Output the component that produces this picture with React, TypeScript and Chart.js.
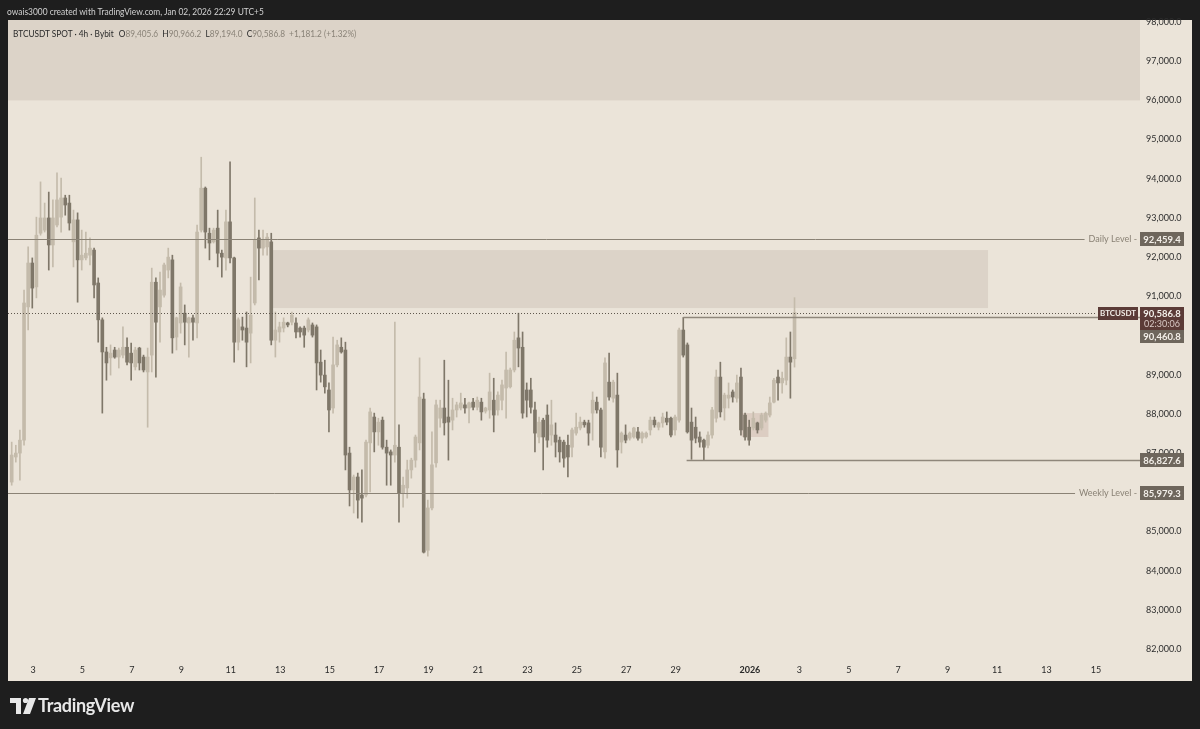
import React, { useEffect, useRef } from 'react';
import { Chart, registerables } from 'chart.js';
Chart.register(...registerables);

// ---- DATA (BTCUSDT 4h candles, Bybit) ----
const opens = [
  86260, 86900, 87000, 87330, 90730, 91850, 91240, 92610, 92690, 93000,
  92310, 92820, 93020, 93510, 93380, 92390, 92950, 91930, 91980, 92050,
  92180, 91340, 90400, 89580, 89430, 89630, 89450, 89500, 89700, 89550,
  89200, 89680, 89450, 89070, 89500, 91360, 90730, 91030, 91670, 91930,
  89960, 90320, 90570, 90320, 90450, 90320, 92690, 93760, 92610, 92390,
  92740, 92100, 91980, 92900, 91980, 89830, 90220, 90190, 90060, 90830,
  92490, 92230, 92260, 92390, 89880, 90090, 90190, 90320, 90340, 90320,
  90190, 90190, 90140, 90270, 90220, 89320, 88990, 88610, 88150, 89250,
  89700, 89630, 87000, 86060, 86390, 85930, 85930, 87260, 87920, 87540,
  87840, 87150, 87030, 86950, 87150, 85980, 86110, 86570, 86820, 87260,
  88380, 84520, 85600, 86750, 87890, 88150, 87920, 87840, 88100, 88150,
  88230, 88150, 88300, 88170, 88300, 88070, 88100, 88350, 88100, 88350,
  88660, 88690, 89120, 89940, 89700, 88610, 88610, 88100, 87410, 87840,
  87970, 87460, 87460, 87330, 87280, 87200, 87150, 87510, 87640, 87790,
  87770, 88020, 88300, 88100, 87030, 88810, 88400, 88480, 87280, 87460,
  87380, 87410, 87540, 87380, 87410, 87590, 87840, 87660, 87770, 87890,
  87890, 87590, 87840, 90140, 89760, 87790, 87660, 87410, 87330, 87200,
  87460, 87890, 88940, 88150, 88400, 88560, 88400, 88940, 87970, 87660,
  87640, 87770, 87640, 87840, 87970, 88300, 88940, 88790, 88860, 89450,
  89405.6,
];
const highs = [
  87280, 87200, 87590, 91160, 92260, 91980, 93020, 93920, 93380, 93660,
  93460, 94150, 94020, 93580, 93580, 93200, 93130, 92690, 92640, 92490,
  92230, 91470, 90450, 89700, 89760, 89700, 89680, 90220, 89940, 89810,
  89700, 89700, 89500, 89680, 91720, 91470, 91620, 91850, 92230, 92050,
  90470, 91340, 90780, 90470, 90520, 92820, 94550, 93790, 92740, 92740,
  93200, 92180, 93200, 94430, 92000, 90450, 90470, 90600, 91490, 93510,
  92690, 92690, 92610, 92610, 90600, 90340, 90450, 90340, 90600, 90450,
  90220, 90240, 90450, 90320, 90270, 89630, 89370, 88790, 89960, 89880,
  89940, 89830, 87150, 86440, 86490, 86570, 87330, 88150, 88020, 87890,
  87920, 87330, 87080, 90340, 87720, 86390, 86820, 86870, 87460, 89430,
  88530, 85800, 87540, 88350, 88350, 89370, 88860, 88400, 88300, 88530,
  88400, 88300, 88400, 88430, 88400, 88170, 89040, 88910, 88560, 88860,
  89580, 89170, 90090, 90570, 90090, 88790, 88910, 88300, 87920, 87890,
  88230, 88350, 87770, 87410, 87330, 87460, 87640, 88020, 87920, 87840,
  87840, 88560, 88430, 88150, 89430, 89550, 88860, 89040, 87540, 87720,
  87540, 87660, 87660, 87540, 87540, 87920, 87920, 87790, 88020, 88050,
  87920, 87970, 90190, 90460.8, 89810, 88150, 87920, 87540, 87360, 87540,
  88170, 89120, 89320, 88530, 88790, 88610, 88990, 89170, 88020, 87840,
  88050, 87790, 88020, 88050, 88430, 88910, 89120, 89070, 89940, 90090,
  90966.2,
];
const lows = [
  86180, 86770, 86310, 87200, 90140, 90700, 90960, 92560, 92640, 91670,
  91750, 92770, 92640, 93070, 92690, 91750, 90850, 91670, 91930, 91800,
  90960, 89830, 88020, 88860, 88990, 89420, 89170, 89430, 89250, 88860,
  89120, 89120, 89070, 87660, 89070, 88940, 89830, 90980, 91470, 89550,
  89630, 90060, 89760, 89450, 89880, 89940, 92640, 92230, 91930, 92360,
  91750, 91490, 91670, 91850, 89320, 89630, 89880, 89200, 89300, 90780,
  91420, 92050, 92050, 89760, 89450, 89830, 90090, 90220, 90270, 89940,
  89960, 89700, 90090, 89960, 88610, 88810, 88530, 87540, 88020, 89200,
  89550, 86570, 85650, 85470, 85340, 85240, 85880, 86010, 87030, 87200,
  87100, 86180, 86180, 86770, 85240, 85620, 85850, 86360, 86640, 87080,
  84450, 84370, 85550, 86640, 87660, 87460, 86820, 87590, 87920, 88100,
  88020, 87770, 88100, 88100, 87840, 88020, 87890, 87540, 87970, 88100,
  87890, 88660, 89070, 89200, 87890, 87920, 88020, 87030, 87260, 86570,
  87150, 87200, 86900, 86770, 86640, 86390, 86900, 87460, 87590, 87660,
  87200, 87330, 88020, 86900, 86870, 88350, 88300, 86640, 87000, 87260,
  87330, 87380, 87330, 87260, 87380, 87460, 87660, 87590, 87660, 87720,
  87410, 87460, 87790, 89450, 87510, 86840, 87260, 87150, 86827.6, 87130,
  87380, 87790, 87920, 87840, 88150, 88300, 88300, 87460, 87330, 87200,
  87590, 87510, 87590, 87790, 87920, 88280, 88350, 88530, 88740, 88400,
  89194.0,
];
const closes = [
  86950, 87000, 87330, 90830, 91850, 91210, 92560, 93000, 93000, 92310,
  93000, 93460, 93510, 93330, 92870, 92950, 91930, 92050, 92100, 92230,
  91290, 90400, 89580, 89300, 89550, 89450, 89630, 89700, 89320, 89300,
  89630, 89300, 89120, 89450, 91360, 90340, 91160, 91800, 92000, 89940,
  90450, 91240, 90340, 90450, 90340, 92640, 93760, 92640, 92360, 92690,
  92100, 92000, 92900, 91980, 89830, 90400, 90140, 89830, 90520, 92440,
  92230, 92440, 92510, 89880, 90140, 90220, 90340, 90270, 90520, 90090,
  90090, 90010, 90400, 90010, 89300, 88990, 88690, 88100, 89250, 89760,
  89580, 86950, 86060, 86390, 85800, 85850, 87280, 88050, 87540, 87790,
  87150, 87000, 86950, 87200, 85980, 86180, 86570, 86820, 87410, 88430,
  84470, 85600, 86700, 88230, 88150, 87770, 87790, 88100, 88230, 88280,
  88150, 88280, 88170, 88350, 88050, 88150, 88560, 87970, 88480, 88740,
  89120, 89120, 89880, 89680, 88020, 88350, 88170, 87510, 87790, 87410,
  87330, 87720, 87280, 87030, 86870, 86900, 87590, 87660, 87790, 87720,
  87510, 88350, 88100, 87150, 89300, 88430, 88810, 87080, 87510, 87330,
  87510, 87640, 87380, 87510, 87510, 87840, 87720, 87770, 87920, 87790,
  87460, 87920, 90140, 89500, 87540, 87330, 87380, 87280, 87150, 87460,
  88100, 88940, 88050, 88480, 88480, 88430, 88790, 87590, 87410, 87330,
  87890, 87590, 87970, 88020, 88280, 88860, 88790, 88910, 89450, 89320,
  90586.8,
];

// time axis: days since Dec 1, 2025 00:00 (UTC+5)
const firstCandleDay = 1.138;
const candleStepDays = 1 / 6; // 4h
const dayAxisMin = 0.989;
const dayAxisMax = 46.78;
const dayTicks = [2, 4, 6, 8, 10, 12, 14, 16, 18, 20, 22, 24, 26, 28, 31, 33, 35, 37, 39, 41, 43, 45];
const dayTickLabels = ['3', '5', '7', '9', '11', '13', '15', '17', '19', '21', '23', '25', '27', '29', '2026', '3', '5', '7', '9', '11', '13', '15'];

// price axis
const priceMin = 81720;
const priceMax = 98051;
const priceTicks = [82000, 83000, 84000, 85000, 86000, 87000, 88000, 89000, 90000, 91000, 92000, 93000, 94000, 95000, 96000, 97000, 98000];

// zones (rectangles drawn on chart)
const zoneStartDays = [0.5, 11.668, 30.67];
const zoneEndDays = [46.78, 40.633, 31.75];
const zoneLowPrices = [96000, 90700, 87410];
const zoneHighPrices = [98300, 92180, 88020];

// horizontal levels
const dailyLevel = 92459.4;
const weeklyLevel = 85979.3;
const rangeHigh = 90460.8;
const rangeHighStartDay = 28.305;
const rangeLow = 86827.6;
const rangeLowStartDay = 28.44;
const lastPrice = 90586.8;

const BULL = '#c4bbab';
const BEAR = '#7f7769';
const FONT = 'Lato, "Liberation Sans", Arial, sans-serif';

const fmt = (v: number) => v.toLocaleString('en-US', { minimumFractionDigits: 1, maximumFractionDigits: 1 });

const overlayPlugin = {
  id: 'overlay',
  beforeDraw(chart: any) {
    const ctx = chart.ctx;
    const xs = chart.scales.x;
    const ys = chart.scales.y;
    const ca = chart.chartArea;
    ctx.save();
    ctx.fillStyle = '#1e1e1e';
    ctx.fillRect(0, 0, chart.width, chart.height);
    ctx.fillStyle = '#ebe4d9';
    ctx.fillRect(8, 20, 1184, 661);
    ctx.beginPath();
    ctx.rect(ca.left, ca.top, ca.right - ca.left, ca.bottom - ca.top);
    ctx.clip();
    const zoneColors = ['#dcd3c8', '#dcd3c8', '#dccdc2'];
    for (let i = 0; i < zoneStartDays.length; i++) {
      const x0 = xs.getPixelForValue(zoneStartDays[i]);
      const x1 = xs.getPixelForValue(zoneEndDays[i]);
      const y0 = ys.getPixelForValue(zoneHighPrices[i]);
      const y1 = ys.getPixelForValue(zoneLowPrices[i]);
      ctx.fillStyle = zoneColors[i];
      ctx.fillRect(x0, y0, x1 - x0, y1 - y0);
    }
    ctx.restore();
  },
  afterDatasetsDraw(chart: any) {
    const ctx = chart.ctx;
    const xs = chart.scales.x;
    const ys = chart.scales.y;
    const ca = chart.chartArea;
    const py = (v: number) => Math.round(ys.getPixelForValue(v)) + 0.5;
    ctx.save();
    ctx.font = `9px ${FONT}`;
    ctx.textBaseline = 'middle';
    ctx.textAlign = 'right';

    // Daily / Weekly levels with text
    const levels: [number, string][] = [[dailyLevel, 'Daily Level -'], [weeklyLevel, 'Weekly Level -']];
    for (const [v, label] of levels) {
      const y = py(v);
      const tx = ca.right - 3;
      const w = ctx.measureText(label).width;
      ctx.strokeStyle = '#8a8275';
      ctx.lineWidth = 1;
      ctx.beginPath();
      ctx.moveTo(ca.left, y);
      ctx.lineTo(tx - w - 4, y);
      ctx.stroke();
      ctx.fillStyle = '#8a8275';
      ctx.fillText(label, tx, y);
    }

    // range lines
    ctx.strokeStyle = '#8f877b';
    ctx.lineWidth = 1.5;
    ctx.beginPath();
    ctx.moveTo(xs.getPixelForValue(rangeHighStartDay), py(rangeHigh));
    ctx.lineTo(ca.right, py(rangeHigh));
    ctx.moveTo(xs.getPixelForValue(rangeLowStartDay), py(rangeLow));
    ctx.lineTo(ca.right, py(rangeLow));
    ctx.stroke();

    // last price dotted line
    ctx.strokeStyle = '#5f574d';
    ctx.lineWidth = 1;
    ctx.setLineDash([1, 2]);
    ctx.beginPath();
    ctx.moveTo(ca.left, py(lastPrice));
    ctx.lineTo(ca.right - 43, py(lastPrice));
    ctx.stroke();
    ctx.setLineDash([]);
    ctx.restore();
  },
  afterDraw(chart: any) {
    const ctx = chart.ctx;
    const ys = chart.scales.y;
    const ca = chart.chartArea;
    const bx = ca.right;
    const bw = 44;
    ctx.save();
    ctx.textBaseline = 'middle';
    ctx.textAlign = 'center';
    ctx.font = `bold 9.5px ${FONT}`;
    const GRAY = '#6e665c';
    const MAROON = '#5b3b37';
    for (const v of [dailyLevel, weeklyLevel, rangeLow]) {
      const y = Math.round(ys.getPixelForValue(v));
      ctx.fillStyle = GRAY;
      ctx.fillRect(bx, y - 7, bw, 14);
      ctx.fillStyle = '#f3efe9';
      ctx.fillText(fmt(v), bx + bw / 2, y + 0.5);
    }
    // last price
    const ly = Math.round(ys.getPixelForValue(lastPrice));
    ctx.fillStyle = MAROON;
    ctx.fillRect(bx, ly - 6, bw, 23);
    ctx.fillRect(bx - 42, ly - 6, 40, 13);
    ctx.fillStyle = '#f3efe9';
    ctx.fillText(fmt(lastPrice), bx + bw / 2, ly + 0.5);
    ctx.font = `bold 8px ${FONT}`;
    ctx.fillText('BTCUSDT', bx - 22, ly + 0.5);
    ctx.font = `9px ${FONT}`;
    ctx.fillStyle = '#d8c8c4';
    ctx.fillText('02:30:06', bx + bw / 2, ly + 11);
    // range high label pushed below
    ctx.fillStyle = GRAY;
    ctx.fillRect(bx, ly + 17, bw, 13);
    ctx.font = `bold 9.5px ${FONT}`;
    ctx.fillStyle = '#f3efe9';
    ctx.fillText(fmt(rangeHigh), bx + bw / 2, ly + 24);

    // TradingView logo mark
    ctx.fillStyle = '#e8e8e8';
    ctx.fillRect(10, 698, 11, 5);
    ctx.fillRect(16, 698, 5, 16);
    ctx.beginPath();
    ctx.arc(25.5, 700.5, 2.6, 0, Math.PI * 2);
    ctx.fill();
    ctx.beginPath();
    ctx.moveTo(29, 698);
    ctx.lineTo(36, 698);
    ctx.lineTo(30, 714);
    ctx.lineTo(23, 714);
    ctx.closePath();
    ctx.fill();
    ctx.restore();
  },
};

export default function App() {
  const ref = useRef<HTMLCanvasElement>(null);
  useEffect(() => {
    const canvas = ref.current;
    if (!canvas) return;
    const xsVals = opens.map((_, i) => firstCandleDay + i * candleStepDays);
    const colors = opens.map((o, i) => (closes[i] >= o ? BULL : BEAR));
    const chart = new Chart(canvas, {
      type: 'bar',
      data: {
        datasets: [
          {
            label: 'wick',
            data: xsVals.map((x, i) => ({ x, y: [lows[i], highs[i]] })) as any,
            backgroundColor: colors,
            barThickness: 1,
            grouped: false,
            borderWidth: 0,
          } as any,
          {
            label: 'body',
            data: xsVals.map((x, i) => ({ x, y: [opens[i], closes[i]] })) as any,
            backgroundColor: colors,
            barThickness: 3,
            minBarLength: 1,
            grouped: false,
            borderWidth: 0,
          } as any,
        ],
      },
      options: {
        animation: false,
        responsive: false,
        maintainAspectRatio: false,
        devicePixelRatio: 1,
        layout: { padding: { left: 8, top: 20, right: 8, bottom: 48 } },
        plugins: { legend: { display: false }, tooltip: { enabled: false } },
        scales: {
          x: {
            type: 'linear',
            min: dayAxisMin,
            max: dayAxisMax,
            offset: false,
            grid: { display: false, drawTicks: false },
            border: { display: false },
            afterBuildTicks: (s: any) => {
              s.ticks = dayTicks.map((v) => ({ value: v }));
            },
            afterFit: (s: any) => {
              s.height = 21;
            },
            ticks: {
              autoSkip: false,
              maxRotation: 0,
              minRotation: 0,
              padding: 5,
              color: '#2a2a2a',
              font: (c: any) => ({ family: FONT, size: 9, weight: c.tick && c.tick.value === 31 ? 'bold' : 'normal' }),
              callback: (_v: any, i: number) => dayTickLabels[i],
            },
          },
          y: {
            type: 'linear',
            position: 'right',
            min: priceMin,
            max: priceMax,
            grid: { display: false, drawTicks: false },
            border: { display: false },
            afterBuildTicks: (s: any) => {
              s.ticks = priceTicks.map((v) => ({ value: v }));
            },
            afterFit: (s: any) => {
              s.width = 52;
            },
            ticks: {
              crossAlign: 'near',
              padding: 6,
              color: '#2e2e2e',
              font: { family: FONT, size: 9 },
              callback: (v: any) => fmt(Number(v)),
            },
          },
        },
      } as any,
      plugins: [overlayPlugin],
    });
    return () => chart.destroy();
  }, []);

  const gray = { color: '#8a8378' };
  return (
    <div style={{ position: 'absolute', left: 0, top: 0, width: 1200, height: 729, background: '#1e1e1e', overflow: 'hidden' }}>
      <canvas ref={ref} width={1200} height={729} style={{ position: 'absolute', left: 0, top: 0, width: 1200, height: 729 }} />
      <div style={{ position: 'absolute', left: 7, top: 4, fontFamily: FONT, fontSize: 10, color: '#d2d2d2', whiteSpace: 'nowrap', lineHeight: '14px', transform: 'scaleX(0.84)', transformOrigin: 'left center' }}>
        owais3000 created with TradingView.com, Jan 02, 2026 22:29 UTC+5
      </div>
      <div style={{ position: 'absolute', left: 13, top: 26, fontFamily: FONT, fontSize: 10, color: '#2a2a2a', whiteSpace: 'nowrap', lineHeight: '14px', transform: 'scaleX(0.83)', transformOrigin: 'left center' }}>
        <span>BTCUSDT SPOT · 4h · Bybit</span>
        <span style={{ marginLeft: 6 }}>O</span><span style={gray}>89,405.6</span>
        <span style={{ marginLeft: 5 }}>H</span><span style={gray}>90,966.2</span>
        <span style={{ marginLeft: 5 }}>L</span><span style={gray}>89,194.0</span>
        <span style={{ marginLeft: 5 }}>C</span><span style={gray}>90,586.8</span>
        <span style={{ ...gray, marginLeft: 5 }}>+1,181.2 (+1.32%)</span>
      </div>
      <div style={{ position: 'absolute', left: 38, top: 695, fontFamily: FONT, fontSize: 18, fontWeight: 700, color: '#e8e8e8', whiteSpace: 'nowrap', lineHeight: '20px', letterSpacing: '-0.3px' }}>
        TradingView
      </div>
    </div>
  );
}
